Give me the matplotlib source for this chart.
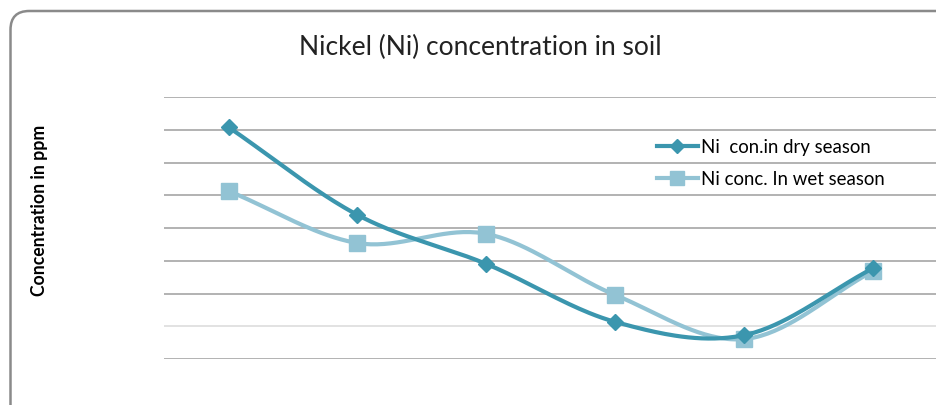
import numpy as np
import matplotlib
matplotlib.use('Agg')
from matplotlib import pyplot as plt
from matplotlib.patches import FancyBboxPatch

# sampling sites (no labels shown on the chart)
sites = [1, 2, 3, 4, 5, 6]
dry_season = [7.08, 4.40, 2.90, 1.13, 0.73, 2.78]
wet_season = [5.13, 3.54, 3.82, 1.95, 0.61, 2.69]
grid_levels = [0, 1, 2, 3, 4, 5, 6, 7, 8]

plt.rcParams['font.family'] = ['Lato', 'DejaVu Sans']


def smooth(x, y, n=40):
    # Catmull-Rom style curve, similar to Excel's smoothed line
    x = np.asarray(x, float)
    y = np.asarray(y, float)
    px = np.concatenate([[2 * x[0] - x[1]], x, [2 * x[-1] - x[-2]]])
    py = np.concatenate([[2 * y[0] - y[1]], y, [2 * y[-1] - y[-2]]])
    xs, ys = [], []
    for i in range(1, len(px) - 2):
        t = np.linspace(0, 1, n)
        for arr, out in ((px, xs), (py, ys)):
            p0, p1, p2, p3 = arr[i - 1], arr[i], arr[i + 1], arr[i + 2]
            c1 = p1 + (p2 - p0) / 6.0
            c2 = p2 - (p3 - p1) / 6.0
            out.extend((1 - t) ** 3 * p1 + 3 * (1 - t) ** 2 * t * c1
                       + 3 * (1 - t) * t ** 2 * c2 + t ** 3 * p2)
    return np.array(xs), np.array(ys)


fig = plt.figure(figsize=(9.37, 4.05), dpi=100)
W, H = 937.0, 405.0

frame = FancyBboxPatch((10.5 / W, -0.1), 1.2, 1.1 - 11 / H,
                       boxstyle='round,pad=0,rounding_size=0.02',
                       transform=fig.transFigure, facecolor='none',
                       edgecolor='#8a8a8a', linewidth=1.8,
                       mutation_aspect=W / H, zorder=0)
fig.patches.append(frame)

ax = fig.add_axes([164 / W, (H - 359) / H, (938 - 164) / W, (359 - 97) / H])
ax.set_facecolor('none')
ax.set_xlim(0.5, 6.5)
ax.set_ylim(0, 8)

for lvl in grid_levels:
    col = '#dddddd' if lvl == 1 else '#a6a6a6'
    ax.axhline(lvl, color=col, linewidth=1.2, zorder=1)

dry_c = '#3b96ae'
wet_c = '#92c3d4'

sx, sy = smooth(sites, wet_season)
ax.plot(sx, sy, color=wet_c, linewidth=3, zorder=2, solid_capstyle='round')
ax.plot(sites, wet_season, linestyle='none', marker='s', markersize=11,
        color=wet_c, zorder=3)
sx, sy = smooth(sites, dry_season)
ax.plot(sx, sy, color=dry_c, linewidth=3, zorder=4, solid_capstyle='round')
ax.plot(sites, dry_season, linestyle='none', marker='D', markersize=8,
        color=dry_c, zorder=5)

# legend proxies
ax.plot([], [], color=dry_c, linewidth=3, marker='D', markersize=7,
        label='Ni  con.in dry season')
ax.plot([], [], color=wet_c, linewidth=3, marker='s', markersize=10,
        label='Ni conc. In wet season')
handles, labels = ax.get_legend_handles_labels()
ax.legend(handles[-2:], labels[-2:], loc='upper left',
          bbox_to_anchor=((640 - 164) / (938 - 164), (359 - 122) / (359 - 97)),
          frameon=False, fontsize=13.4, handlelength=2.2, handletextpad=0.2,
          labelspacing=0.8)

for s in ax.spines.values():
    s.set_visible(False)
ax.set_xticks([])
ax.set_yticks([])

fig.text(480 / W, 1 - 47 / H, 'Nickel (Ni) concentration in soil',
         ha='center', va='center', fontsize=19, color='#222222')
fig.text(40 / W, 1 - 210 / H, 'Concentration in ppm', rotation=90,
         ha='center', va='center', fontsize=12.7, fontweight='bold')

fig.savefig('out.png', dpi=100)
